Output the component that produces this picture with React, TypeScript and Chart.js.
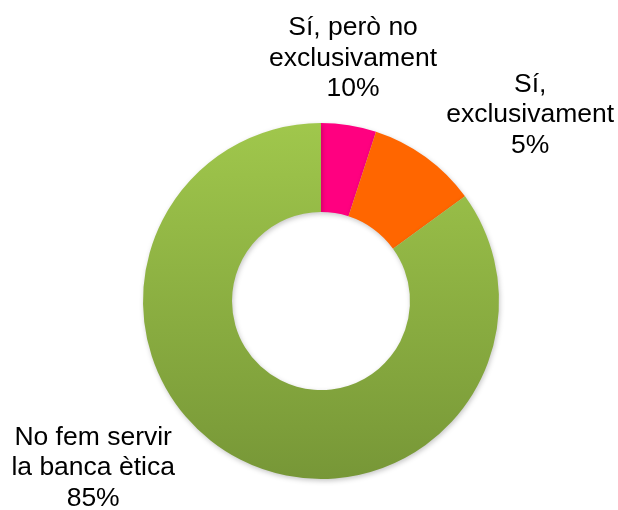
import React, { useEffect, useRef } from "react";
import { Chart, registerables } from "chart.js";

Chart.register(...registerables);

const categories = ["Sí, exclusivament", "Sí, però no exclusivament", "No fem servir la banca ètica"];
const values = [5, 10, 85];
const labelLines = [
  ["Sí,", "exclusivament"],
  ["Sí, però no", "exclusivament"],
  ["No fem servir", "la banca ètica"],
];
const colors = ["#FF0080", "#FF6600", "green-gradient"];

// label anchor, relative to doughnut centre, in units of outer radius
const labelAnchors = [
  [1.175, -1.046],
  [0.18, -1.362],
  [-1.28, 0.938],
];

const FONT = '"Liberation Sans", Arial, sans-serif';

const labelPlugin = {
  id: "sliceLabels",
  beforeDatasetsDraw(chart: any) {
    const ctx = chart.ctx;
    ctx.save();
    ctx.shadowColor = "rgba(0,0,0,0.22)";
    ctx.shadowBlur = 5;
    ctx.shadowOffsetX = 1;
    ctx.shadowOffsetY = 2;
  },
  afterDatasetsDraw(chart: any) {
    const ctx = chart.ctx;
    ctx.restore();
    const meta = chart.getDatasetMeta(0);
    const total = values.reduce((a, b) => a + b, 0);
    ctx.save();
    ctx.fillStyle = "#000";
    ctx.font = `26.5px ${FONT}`;
    ctx.textAlign = "center";
    ctx.textBaseline = "middle";
    meta.data.forEach((arc: any, i: number) => {
      const { x, y, outerRadius } = arc.getProps(["x", "y", "outerRadius"], true);
      const cx = x + labelAnchors[i][0] * outerRadius;
      const cy = y + labelAnchors[i][1] * outerRadius;
      const lines = [...labelLines[i], `${Math.round((values[i] / total) * 100)}%`];
      const lh = 30.5;
      const start = cy - ((lines.length - 1) * lh) / 2;
      lines.forEach((ln, k) => ctx.fillText(ln, cx, start + k * lh));
    });
    ctx.restore();
  },
};

export default function App() {
  const ref = useRef<HTMLCanvasElement>(null);
  useEffect(() => {
    document.body.style.margin = "0";
    const canvas = ref.current!;
    const chart = new Chart(canvas, {
      type: "doughnut",
      data: {
        labels: categories,
        datasets: [
          {
            data: values,
            backgroundColor: (c: any) => {
              const col = colors[c.dataIndex];
              if (col !== "green-gradient") return col;
              const area = c.chart.chartArea;
              if (!area) return "#8DB046";
              const g = c.chart.ctx.createLinearGradient(0, area.top, 0, area.bottom);
              g.addColorStop(0, "#A0C74C");
              g.addColorStop(1, "#779737");
              return g;
            },
            borderWidth: 0,
          },
        ],
      },
      options: {
        animation: false,
        responsive: false,
        cutout: "50%",
        layout: { padding: { top: 123, bottom: 31, left: 143, right: 119 } },
        plugins: {
          legend: { display: false },
          tooltip: { enabled: false },
        },
      },
      plugins: [labelPlugin],
    });
    return () => chart.destroy();
  }, []);
  return (
    <div style={{ position: "fixed", left: 0, top: 0, width: 618, height: 510, background: "#fff" }}>
      <canvas ref={ref} width={618} height={510} style={{ width: 618, height: 510 }} />
    </div>
  );
}
